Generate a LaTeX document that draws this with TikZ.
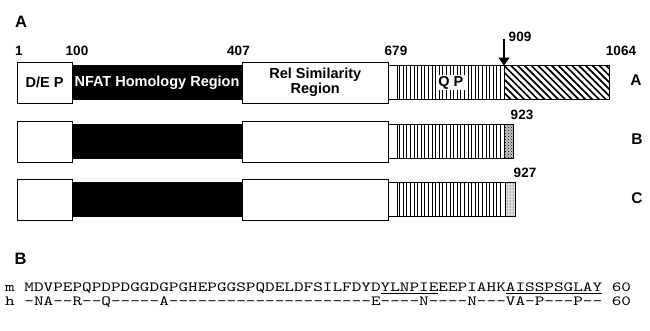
\documentclass[tikz,border=0pt]{standalone}
\usepackage{fontspec}
\setmainfont{Liberation Sans}
\newfontfamily\seqfont{lmmono10-regular.otf}[FakeStretch=1.31]
\usepackage{tikz}
\usetikzlibrary{arrows.meta, positioning, patterns}

% underline for marked residues
\newcommand{\seqmark}[1]{\setbox0=\hbox{#1}\rlap{\rule[-2.4pt]{\wd0}{0.9pt}}\box0\relax}

\begin{document}
\begin{tikzpicture}[
    x=1pt, y=-1pt,
    tallbox/.style={rectangle, draw, line width=0.9pt, fill=white, minimum height=41pt, inner sep=0pt, outer sep=0pt},
    thinbox/.style={rectangle, draw, line width=0.9pt, minimum height=34pt, inner sep=0pt, outer sep=0pt},
    nfatbox/.style={thinbox, fill=black, text=white},
    stripebox/.style={thinbox, path picture={
        \foreach \x in {2,5.6,...,104}
            \draw[stripe] ([xshift=\x pt]path picture bounding box.north west) -- ([xshift=\x pt]path picture bounding box.south west);
    }},
    hatchbox/.style={thinbox, path picture={
        \foreach \x in {-34,-27.2,...,106}
            \draw[hatch] ([xshift=\x pt]path picture bounding box.north west) -- ([xshift={\x pt+34pt}]path picture bounding box.south west);
    }},
    stripe/.style={line width=0.8pt},
    hatch/.style={line width=1.7pt},
    marker/.style={-{Triangle[width=11pt, length=8pt]}, line width=1.3pt},
    num/.style={font=\bfseries\fontsize{13.5}{14}\selectfont, inner sep=0pt},
    boxtext/.style={font=\bfseries\fontsize{14.5}{13}\selectfont},
    rowlabel/.style={font=\bfseries\fontsize{15.5}{16}\selectfont, inner sep=0pt},
    panel/.style={font=\bfseries\fontsize{16.5}{17}\selectfont, inner sep=0pt},
    seq/.style={font=\seqfont\fontsize{14}{14}\selectfont, inner sep=0pt, text height=9pt, text depth=2.5pt, anchor=base west}
]
\useasboundingbox (0,0) rectangle (650,330);

% Panel A
\node[panel] (panelA) at (21,22) {A};

% Residue numbers
\node[num] (n1) at (19,50.5) {1};
\node[num] (n100) at (77,50.5) {100};
\node[num] (n407) at (238.5,50.5) {407};
\node[num] (n679) at (396,50.5) {679};
\node[num] (n909) at (520,37) {909};
\node[num] (n1064) at (621,50.5) {1064};

% Row A
\node[tallbox, boxtext, minimum width=55pt] (deA) at (44.5,82.5) {D/E P};
\node[nfatbox, boxtext, minimum width=170pt, right=0pt of deA] (nfatA) {NFAT Homology Region};
\node[tallbox, boxtext, align=center, minimum width=146.5pt, right=0pt of nfatA] (relA) {Rel Similarity\\Region};
\node[thinbox, minimum width=9pt, right=0pt of relA] (gapA) {};
\node[stripebox, minimum width=106.5pt, right=0pt of gapA] (qpA) {};
\node[boxtext, fill=white, inner sep=1.5pt] (qpAtext) at (qpA.center) {Q P};
\node[hatchbox, minimum width=105pt, right=0pt of qpA] (tailA) {};
\node[rowlabel] (labA) at (636,80) {A};

% Cleavage site
\coordinate (arr909) at ([yshift=27pt]tailA.north west);
\draw[marker] (arr909) -- (tailA.north west);

% Row B
\node[tallbox, minimum width=55pt] (deB) at (44.5,141.5) {};
\node[nfatbox, minimum width=170pt, right=0pt of deB] (nfatB) {};
\node[tallbox, minimum width=146.5pt, right=0pt of nfatB] (relB) {};
\node[thinbox, minimum width=9pt, right=0pt of relB] (gapB) {};
\node[stripebox, minimum width=106.5pt, right=0pt of gapB] (qpB) {};
\node[thinbox, preaction={fill=gray!45}, pattern=crosshatch dots, minimum width=9pt, right=0pt of qpB] (tailB) {};
\node[num] (n923) at (522,115) {923};
\node[rowlabel] (labB) at (637,139.5) {B};

% Row C
\node[tallbox, minimum width=55pt] (deC) at (44.5,199.5) {};
\node[nfatbox, minimum width=170pt, right=0pt of deC] (nfatC) {};
\node[tallbox, minimum width=146.5pt, right=0pt of nfatC] (relC) {};
\node[thinbox, minimum width=9pt, right=0pt of relC] (gapC) {};
\node[stripebox, minimum width=108pt, right=0pt of gapC] (qpC) {};
\node[thinbox, preaction={fill=gray!25}, pattern=dots, minimum width=10pt, right=0pt of qpC] (tailC) {};
\node[num] (n927) at (525,173) {927};
\node[rowlabel] (labC) at (637,198.5) {C};

% Panel B: aligned sequences
\node[panel] (panelB) at (20.5,259) {B};
\node[seq] (seqm) at (5,291.5) {m MDVPEPQPDPDGGDGPGHEPGGSPQDELDFSILFDYD\seqmark{YLNPIE}EEPIAHK\seqmark{AISSPSGLAY} 60};
\node[seq] (seqh) at (5,305) {h -NA--R--Q-----A---------------------E----N----N---VA-P---P-- 60};

\end{tikzpicture}
\end{document}
